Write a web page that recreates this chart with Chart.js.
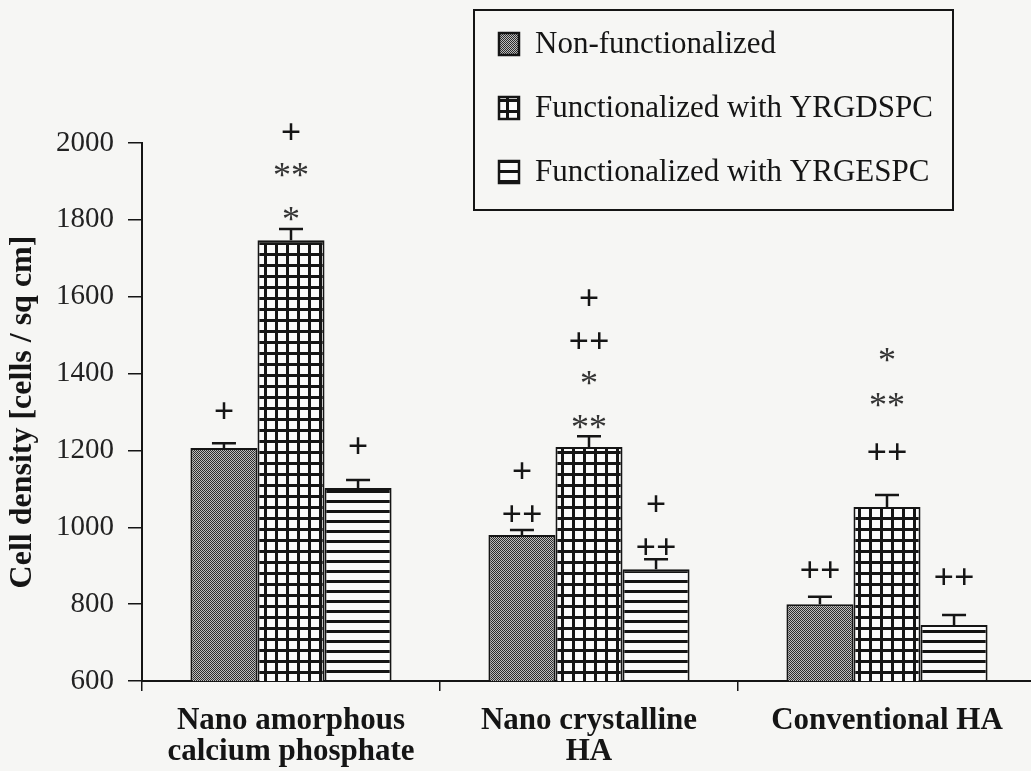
<!DOCTYPE html>
<html lang="en">
<head>
<meta charset="UTF-8">
<title>Cell density</title>
<script src="https://cdn.jsdelivr.net/npm/chart.js"></script>
<style>
  html, body { margin: 0; padding: 0; background: #f6f6f4; overflow: hidden; }
  .wrap { position: relative; width: 1040px; height: 771px; }
</style>
</head>
<body>
<div class="wrap"><canvas id="chart"></canvas></div>
<script>
const categories = [['Nano amorphous', 'calcium phosphate'], ['Nano crystalline', 'HA'], 'Conventional HA'];
const seriesNames = ['Non-functionalized', 'Functionalized with YRGDSPC', 'Functionalized with YRGESPC'];
const nonFunc = [1206, 980, 800];
const yrgdspc = [1747, 1209, 1053];
const yrgespc = [1102, 891, 746];
const nonFuncErr = [13, 13, 19];
const yrgdspcErr = [29, 28, 31];
const yrgespcErr = [21, 26, 26];
const yMin = 600, yMax = 2000, yStep = 200;
// significance symbols over each bar: [symbol, level in cells / sq cm]
const nonFuncMarks = [[['+', 1303]], [['+', 1149], ['++', 1037]], [['++', 889]]];
const yrgdspcMarks = [[['+', 2029], ['**', 1930], ['*', 1815]],
                      [['+', 1599], ['++', 1485], ['*', 1388], ['**', 1274]],
                      [['*', 1448], ['**', 1331], ['++', 1196]]];
const yrgespcMarks = [[['+', 1214]], [['+', 1063], ['++', 949]], [['++', 871]]];

const serif = "'Liberation Serif', 'Times New Roman', serif";
const ink = '#151515';

function makePattern(kind) {
    const c = document.createElement('canvas');
    const g = c.getContext('2d');
    if (kind === 'dots') {
        c.width = 2; c.height = 2;
        g.fillStyle = '#bdbdbd'; g.fillRect(0, 0, 2, 2);
        g.fillStyle = '#2c2c2c'; g.fillRect(0, 0, 1, 1); g.fillRect(1, 1, 1, 1);
    } else if (kind === 'grid') {
        c.width = 11; c.height = 11;
        g.fillStyle = '#fbfbfb'; g.fillRect(0, 0, 11, 11);
        g.fillStyle = ink; g.fillRect(0, 0, 3, 11); g.fillRect(0, 0, 11, 3);
    } else {
        c.width = 4; c.height = 10;
        g.fillStyle = '#fbfbfb'; g.fillRect(0, 0, 4, 10);
        g.fillStyle = ink; g.fillRect(0, 0, 4, 3);
    }
    return g.createPattern(c, 'repeat');
}

const fills = [makePattern('dots'), makePattern('grid'), makePattern('stripes')];

const errorBars = {
    id: 'errorBars',
    afterDatasetsDraw(chart) {
        const ctx = chart.ctx, y = chart.scales.y;
        ctx.save();
        chart.data.datasets.forEach((ds, i) => {
            chart.getDatasetMeta(i).data.forEach((bar, j) => {
                const top = y.getPixelForValue(ds.data[j] + ds.errors[j]);
                ctx.strokeStyle = ink;
                ctx.lineWidth = 2.5;
                ctx.beginPath();
                ctx.moveTo(bar.x, bar.y);
                ctx.lineTo(bar.x, top);
                ctx.moveTo(bar.x - 12, top);
                ctx.lineTo(bar.x + 12, top);
                ctx.stroke();
                ds.marks[j].forEach(([sym, level]) => {
                    const star = sym.indexOf('*') >= 0;
                    ctx.font = (star ? '' : 'bold ') + '36px ' + serif;
                    ctx.fillStyle = star ? '#333' : ink;
                    ctx.textAlign = 'center';
                    ctx.textBaseline = 'alphabetic';
                    const m = ctx.measureText(sym);
                    const py = y.getPixelForValue(level);
                    ctx.fillText(sym, bar.x, py + (m.actualBoundingBoxAscent - m.actualBoundingBoxDescent) / 2);
                });
            });
        });
        ctx.restore();
    }
};

const boxLegend = {
    id: 'boxLegend',
    afterDraw(chart) {
        const ctx = chart.ctx;
        ctx.save();
        ctx.strokeStyle = ink;
        ctx.lineWidth = 2;
        ctx.strokeRect(474, 10, 479, 200);
        const rows = [44, 108, 172];
        chart.data.datasets.forEach((ds, i) => {
            const cy = rows[i];
            ctx.fillStyle = ds.backgroundColor;
            ctx.fillRect(499, cy - 11, 20, 22);
            ctx.lineWidth = 2.5;
            ctx.strokeRect(499, cy - 11, 20, 22);
            ctx.fillStyle = ink;
            ctx.font = '31px ' + serif;
            ctx.textAlign = 'left';
            ctx.textBaseline = 'middle';
            ctx.fillText(ds.label, 535, cy + 1);
        });
        ctx.restore();
    }
};

const values = [nonFunc, yrgdspc, yrgespc];
const errs = [nonFuncErr, yrgdspcErr, yrgespcErr];
const marks = [nonFuncMarks, yrgdspcMarks, yrgespcMarks];

new Chart(document.getElementById('chart'), {
    type: 'bar',
    data: {
        labels: categories,
        datasets: seriesNames.map((name, i) => ({
            label: name,
            data: values[i],
            errors: errs[i],
            marks: marks[i],
            backgroundColor: fills[i],
            borderColor: ink,
            borderWidth: 2,
            borderSkipped: false,
            barPercentage: 1,
            categoryPercentage: 0.675
        }))
    },
    options: {
        responsive: true,
        maintainAspectRatio: false,
        animation: false,
        layout: { padding: { top: 143, right: 4, left: 0, bottom: 0 } },
        plugins: {
            legend: { display: false },
            tooltip: { enabled: false }
        },
        scales: {
            x: {
                afterFit(scale) { scale.height = 90; },
                grid: { drawOnChartArea: false, drawTicks: true, tickLength: 10, color: ink, lineWidth: 1.5 },
                border: { display: true, color: ink, width: 2 },
                ticks: {
                    color: ink,
                    padding: 14,
                    maxRotation: 0,
                    font: { family: serif, size: 31, weight: 'bold', lineHeight: 1.02 }
                }
            },
            y: {
                min: yMin,
                max: yMax,
                afterFit(scale) { scale.width = 142; },
                grid: { drawOnChartArea: false, drawTicks: true, tickLength: 14, color: ink, lineWidth: 1.5 },
                border: { display: true, color: ink, width: 2 },
                ticks: {
                    stepSize: yStep,
                    color: '#222',
                    padding: 14,
                    font: { family: serif, size: 29 },
                    callback: v => String(v)
                },
                title: {
                    display: true,
                    text: 'Cell density [cells / sq cm]',
                    color: ink,
                    padding: { top: 4, bottom: 4 },
                    font: { family: serif, size: 32, weight: 'bold' }
                }
            }
        }
    },
    plugins: [errorBars, boxLegend]
});
</script>
</body>
</html>
